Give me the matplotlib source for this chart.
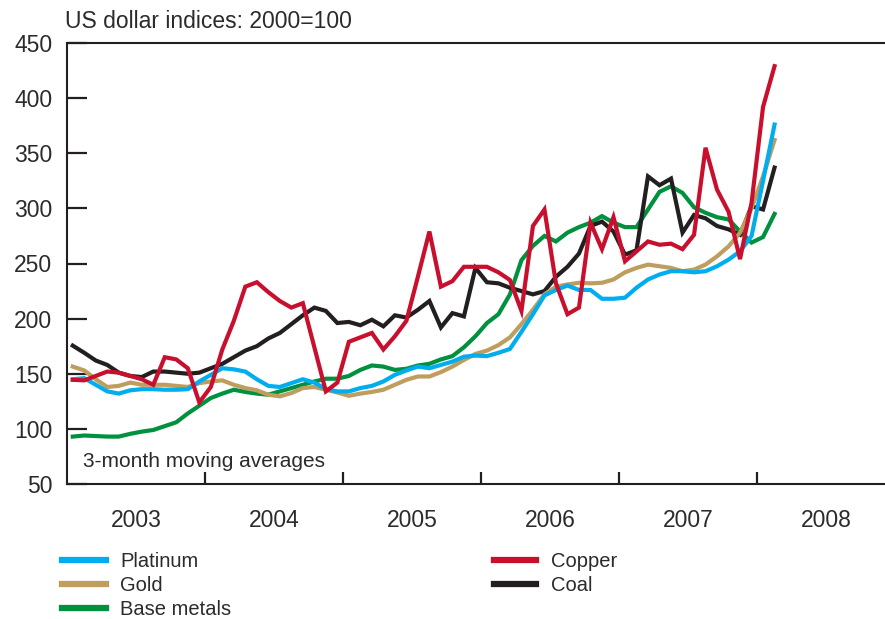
import matplotlib.pyplot as plt
import numpy as np
from matplotlib.lines import Line2D

# ================================
# %% Data (monthly, Jan 2003 - Feb 2008, 3-month moving averages)
# ++++++++++++++++++++++++++++++++

years = ["2003", "2004", "2005", "2006", "2007", "2008"]

platinum = [
    145, 146, 140, 134, 132, 135, 136, 136, 135.5, 135.5, 136, 143,
    149, 155, 154, 152, 145, 139, 138, 141.5, 145, 142, 136, 134,
    134, 137, 139, 143, 149, 153, 156.5, 155, 158, 161, 165.5, 166.5,
    166, 169, 172.5, 188, 204, 221, 226, 230, 226, 226, 218, 218,
    219, 228, 235.5, 240, 243, 243, 242, 243, 247.5, 253.5, 261, 275,
    325, 376,
]
gold = [
    156.5, 153, 145, 138, 139, 142, 140, 140, 140, 139, 138, 141.5,
    143, 144, 140, 137, 135, 131, 129.5, 132.5, 137, 138, 135.5, 133,
    130, 132, 133.5, 135.5, 140, 144.5, 147.5, 147.5, 151.5, 156.5, 162.5, 168,
    171, 176, 183, 195, 208, 222, 229, 231, 232.5, 232, 232.5, 235.5,
    242, 246, 249, 247.5, 246, 243, 244.5, 249, 256.5, 265.5, 278, 300,
    329, 362,
]
base_metals = [
    93, 94, 93.5, 93, 93, 95.5, 97.5, 99, 102.5, 106, 114, 121,
    128, 132, 135.5, 133.5, 132, 131, 134, 137, 140, 143, 145.5, 145.5,
    148, 153.5, 157.5, 156.5, 153.5, 154.5, 157.5, 159, 163, 166, 174, 184,
    196, 204, 222, 253, 266, 275, 270, 278, 283, 287, 293, 287,
    283, 283, 299, 315, 320, 314, 301, 296, 292, 290, 279, 269,
    274, 295,
]
copper = [
    144.5, 144, 148, 152, 151, 148, 145, 140, 165, 163, 155, 124,
    138, 172, 198, 229, 233, 224, 216, 210, 214, 174, 134, 142,
    179, 183, 187, 172, 184, 198, 238, 279, 229, 234, 247, 247,
    247, 242, 235, 207, 284, 299, 232, 204, 210, 287, 263, 292,
    252, 261, 270, 267, 268, 263, 276, 355, 317, 297, 254, 305,
    392, 429,
]
coal = [
    175.5, 169, 162, 158, 151, 148, 147, 152, 152, 151, 150, 151,
    155, 159, 165, 171, 175, 182, 187, 195, 203, 210, 207, 196,
    197, 194, 199, 193, 203, 201, 208, 216, 192, 205, 202, 246,
    233, 232, 228, 225, 222, 225, 238, 247, 259, 284, 288, 279,
    258, 262, 329, 321, 327, 278, 294, 291, 284, 281, 276, 302,
    299, 337,
]

# ================================
# %% Style preset
# ++++++++++++++++++++++++++++++++

plt.rcParams["font.family"] = ["Liberation Sans", "DejaVu Sans"]
text_color = "#2b2b2b"
axis_color = "#231f20"

# Drawing order: first drawn is at the bottom
series = [
    ("Base metals", base_metals, "#00913f"),
    ("Coal", coal, "#231f20"),
    ("Gold", gold, "#bf9d5e"),
    ("Platinum", platinum, "#00aeef"),
    ("Copper", copper, "#c8102e"),
]
colors = {name: c for name, _, c in series}

# ================================
# %% Plot
# ++++++++++++++++++++++++++++++++

W, H = 885, 619
fig = plt.figure(figsize=(W / 100, H / 100), dpi=100)
ax = fig.add_axes([67 / W, 1 - 484 / H, 1 - 67 / W, (484 - 43) / H])

months = np.arange(len(coal)) + 0.5
for name, vals, c in series:
    ax.plot(months, vals, color=c, lw=3, solid_joinstyle="miter")

ax.set_xlim(0, 71.1)
ax.set_ylim(50, 450)

for side in ["left", "top", "bottom"]:
    ax.spines[side].set_linewidth(1.5)
    ax.spines[side].set_color(axis_color)
ax.spines["right"].set_visible(False)

ax.set_yticks(np.arange(50, 451, 50))
ax.tick_params(axis="y", direction="in", length=14.4, width=1.6,
               color=axis_color, labelsize=16.5, labelcolor=text_color, pad=10.5)

# year boundaries get a tick, year names sit in between
ax.set_xticks([12, 24, 36, 48, 60])
ax.set_xticklabels([])
ax.tick_params(axis="x", which="major", direction="in", length=8.5, width=1.6,
               color=axis_color)
ax.set_xticks(np.arange(6, 72, 12), minor=True)
ax.set_xticklabels(years, minor=True)
ax.tick_params(axis="x", which="minor", length=0, labelsize=16.5,
               labelcolor=text_color, pad=18)

fig.text(83 / W, 1 - 467 / H, "3-month moving averages", fontsize=15,
         color=text_color, va="baseline", ha="left")
fig.text(65 / W, 1 - 28 / H, "US dollar indices: 2000=100", fontsize=16.5,
         color=text_color, va="baseline", ha="left")

# ================================
# %% Legend (two columns below the axes)
# ++++++++++++++++++++++++++++++++

legend_cols = [
    (62, 106, 120, ["Platinum", "Gold", "Base metals"]),
    (494, 536, 551, ["Copper", "Coal"]),
]
for x0, x1, xt, names in legend_cols:
    for r, name in enumerate(names):
        y = 559.5 + 24 * r
        fig.add_artist(Line2D([x0 / W, x1 / W], [1 - y / H, 1 - y / H],
                              color=colors[name], lw=4.5,
                              transform=fig.transFigure))
        fig.text(xt / W, 1 - (y + 7.5) / H, name, fontsize=14.5,
                 color=text_color, va="baseline", ha="left")

fig.savefig("out.png", dpi=100)
